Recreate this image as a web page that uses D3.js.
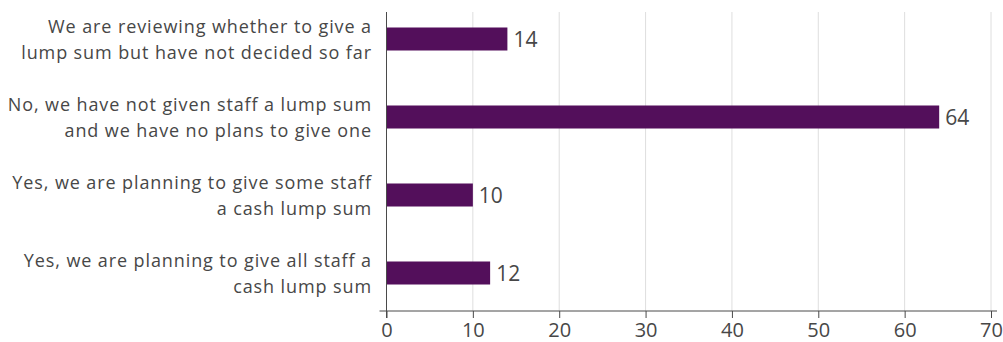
<!DOCTYPE html>
<html>
<head>
<meta charset="utf-8">
<script src="https://cdn.jsdelivr.net/npm/d3@7"></script>
<style>
  html, body { margin: 0; padding: 0; background: #fff; }
  svg text { font-family: "Open Sans", Lato, sans-serif; fill: #474747; }
</style>
</head>
<body>
<svg id="chart" width="1003" height="342"></svg>
<script>
// Responses, top to bottom
const categories = [
  ["We are reviewing whether to give a", "lump sum but have not decided so far"],
  ["No, we have not given staff a lump sum", "and we have no plans to give one"],
  ["Yes, we are planning to give some staff", "a cash lump sum"],
  ["Yes, we are planning to give all staff a", "cash lump sum"]
];
const values = [14, 64, 10, 12];
const xTicks = [0, 10, 20, 30, 40, 50, 60, 70];

const barColor = "#530f5b";
const axisColor = "#4a4a4a";
const plotLeft = 386.5, plotRight = 991, plotTop = 12, plotBottom = 311;

const svg = d3.select("#chart");

const x = d3.scaleLinear().domain([0, 70]).range([plotLeft, plotRight]);
const y = d3.scaleBand()
  .domain(d3.range(categories.length))
  .range([0, 312])
  .paddingInner(0.705)
  .paddingOuter(0.3525);

// vertical gridlines
svg.append("g")
  .selectAll("line")
  .data(xTicks.filter(d => d > 0))
  .join("line")
  .attr("x1", d => x(d)).attr("x2", d => x(d))
  .attr("y1", plotTop).attr("y2", plotBottom)
  .attr("stroke", "#dedede").attr("stroke-width", 1);

// bars
svg.append("g")
  .selectAll("rect")
  .data(values)
  .join("rect")
  .attr("x", x(0))
  .attr("y", (d, i) => y(i))
  .attr("width", d => x(d) - x(0))
  .attr("height", y.bandwidth())
  .attr("fill", barColor);

// value labels
svg.append("g")
  .selectAll("text")
  .data(values)
  .join("text")
  .attr("x", d => x(d) + 6)
  .attr("y", (d, i) => y(i) + y.bandwidth() / 2)
  .attr("dy", "0.36em")
  .attr("font-size", 21)
  .text(d => d);

// x axis
const xAxis = svg.append("g")
  .attr("transform", `translate(0,${plotBottom})`)
  .call(d3.axisBottom(x).tickValues(xTicks).tickSize(7).tickPadding(5).tickSizeOuter(0));
xAxis.select(".domain").remove();
xAxis.append("line")
  .attr("x1", plotLeft - 7).attr("x2", 997)
  .attr("stroke", axisColor).attr("stroke-width", 1);
xAxis.selectAll(".tick line").attr("stroke", axisColor);
xAxis.selectAll(".tick text")
  .attr("font-size", 20)
  .attr("font-family", "'Open Sans', Lato, sans-serif")
  .attr("fill", "#474747");

// y axis line
svg.append("line")
  .attr("x1", x(0)).attr("x2", x(0))
  .attr("y1", plotTop).attr("y2", plotBottom + 7)
  .attr("stroke", axisColor).attr("stroke-width", 1);

// category labels (two lines each)
const labels = svg.append("g")
  .selectAll("text")
  .data(categories)
  .join("text")
  .attr("text-anchor", "end")
  .attr("font-size", 18)
  .attr("letter-spacing", 0.9)
  .attr("transform", (d, i) => `translate(372,${y(i) + y.bandwidth() / 2})`);
labels.selectAll("tspan")
  .data(d => d)
  .join("tspan")
  .attr("x", 0)
  .attr("y", (d, j) => (j === 0 ? -13 : 13))
  .attr("dy", "0.38em")
  .text(d => d);
</script>
</body>
</html>
